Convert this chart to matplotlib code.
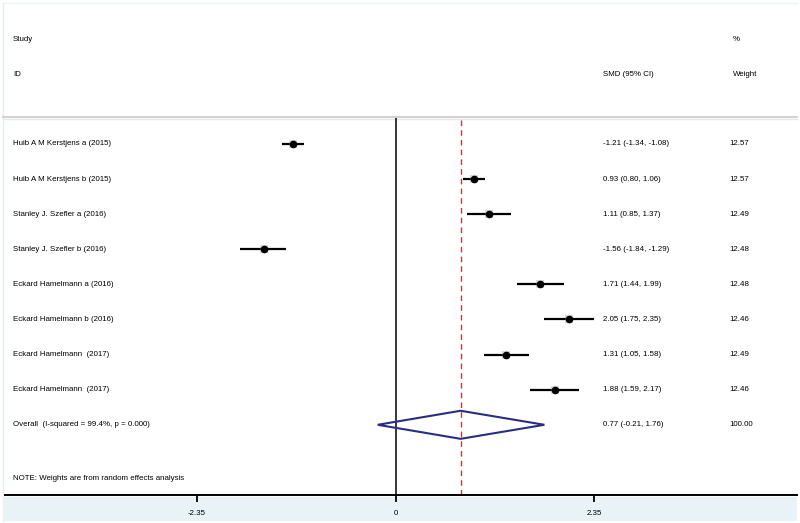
import matplotlib
matplotlib.use("Agg")
import matplotlib.pyplot as plt
from matplotlib.patches import Polygon, Rectangle
from matplotlib.lines import Line2D

plt.rcParams['font.family'] = ['Liberation Sans', 'DejaVu Sans']

studies = ["Huib A M Kerstjens a (2015)", "Huib A M Kerstjens b (2015)",
           "Stanley J. Szefler a (2016)", "Stanley J. Szefler b (2016)",
           "Eckard Hamelmann a (2016)", "Eckard Hamelmann b (2016)",
           "Eckard Hamelmann  (2017)", "Eckard Hamelmann  (2017)"]
smd = [-1.21, 0.93, 1.11, -1.56, 1.71, 2.05, 1.31, 1.88]
lower = [-1.34, 0.80, 0.85, -1.84, 1.44, 1.75, 1.05, 1.59]
upper = [-1.08, 1.06, 1.37, -1.29, 1.99, 2.35, 1.58, 2.17]
weights = ["12.57", "12.57", "12.49", "12.48", "12.48", "12.46", "12.49", "12.46"]
overall_label = "Overall  (I-squared = 99.4%, p = 0.000)"
overall = [0.77, -0.21, 1.76]
overall_weight = "100.00"
xticks = [-2.35, 0, 2.35]
xticklabels = ["-2.35", "0", "2.35"]

W, H = 800, 523
fig = plt.figure(figsize=(W / 100, H / 100), dpi=100)

# light blue strip below axis and frame
fig.patches.append(Rectangle((3 / W, 1 - 521 / H), 794 / W, 24 / H, transform=fig.transFigure,
                             facecolor='#e9f2f6', edgecolor='none', zorder=-5))
fig.lines.append(Line2D([3 / W, 3 / W], [1 - 521 / H, 1 - 3 / H], transform=fig.transFigure,
                        color='#e2edf2', lw=1, zorder=-5))
fig.lines.append(Line2D([3 / W, 797 / W], [1 - 3 / H, 1 - 3 / H], transform=fig.transFigure,
                        color='#eef3f6', lw=1, zorder=-5))
fig.lines.append(Line2D([3 / W, 797 / W], [1 - 117 / H, 1 - 117 / H], transform=fig.transFigure,
                        color='#c9c9c9', lw=1.2, zorder=-5))
fig.lines.append(Line2D([3 / W, 797 / W], [1 - 118.5 / H, 1 - 118.5 / H], transform=fig.transFigure,
                        color='#e8e8e8', lw=1, zorder=-5))

left, right, top, bottom = 5, 797, 118, 495
ax = fig.add_axes([left / W, 1 - bottom / H, (right - left) / W, (bottom - top) / H])
ax.set_zorder(2)
ax.set_xlim(-4.616, 4.746)
ax.set_ylim(10.0, -0.74)
ax.set_facecolor('none')
for s in ['top', 'right', 'left']:
    ax.spines[s].set_visible(False)
ax.spines['bottom'].set_linewidth(1.4)
ax.set_yticks([])
ax.set_xticks(xticks)
ax.set_xticklabels(xticklabels, fontsize=5.7)
ax.tick_params(axis='x', direction='out', length=5, width=1.3, pad=6)

n = len(studies)
ax.axvline(0, color='black', lw=1.1, zorder=1)
ax.axvline(overall[0], color='#b8403c', lw=1, ls=(0, (4, 3)), zorder=1)

for i in range(n):
    ax.plot([lower[i], upper[i]], [i, i], color='black', lw=1.6, solid_capstyle='butt', zorder=3)
    ax.plot(smd[i], i, marker='s', color='#9a9a9a', markersize=5.5, alpha=0.35, mew=0, zorder=3)
    ax.plot(smd[i], i, marker='o', color='black', markersize=4.5, zorder=4)

yo = n
h = 0.4
diamond = Polygon([(overall[1], yo), (overall[0], yo - h), (overall[2], yo), (overall[0], yo + h)],
                  closed=True, fill=False, edgecolor='#2a2e80', lw=1.5, zorder=3)
ax.add_patch(diamond)

tr = ax.get_yaxis_transform()
fs = 5.7
x_lab, x_smd, x_w = 0.0101, 0.755, 0.915
for i in range(n):
    ax.text(x_lab, i, studies[i], transform=tr, fontsize=fs, va='center', ha='left')
    ax.text(x_smd, i, f"{smd[i]:.2f} ({lower[i]:.2f}, {upper[i]:.2f})", transform=tr,
            fontsize=fs, va='center', ha='left')
    ax.text(x_w, i, weights[i], transform=tr, fontsize=fs, va='center', ha='left')

ax.text(x_lab, yo, overall_label, transform=tr, fontsize=fs, va='center', ha='left')
ax.text(x_smd, yo, f"{overall[0]:.2f} ({overall[1]:.2f}, {overall[2]:.2f})", transform=tr,
        fontsize=fs, va='center', ha='left')
ax.text(x_w, yo, overall_weight, transform=tr, fontsize=fs, va='center', ha='left')
ax.text(x_lab, 9.54, "NOTE: Weights are from random effects analysis", transform=tr,
        fontsize=fs, va='center', ha='left')

# header
ax.text(x_lab, -2.99, "Study", transform=tr, fontsize=fs, va='center', ha='left', clip_on=False)
ax.text(x_lab, -1.97, "ID", transform=tr, fontsize=fs, va='center', ha='left', clip_on=False)
ax.text(x_smd, -1.97, "SMD (95% CI)", transform=tr, fontsize=fs, va='center', ha='left', clip_on=False)
ax.text(0.919, -2.99, "%", transform=tr, fontsize=fs, va='center', ha='left', clip_on=False)
ax.text(0.919, -1.97, "Weight", transform=tr, fontsize=fs, va='center', ha='left', clip_on=False)

fig.savefig("out.png", dpi=100)
